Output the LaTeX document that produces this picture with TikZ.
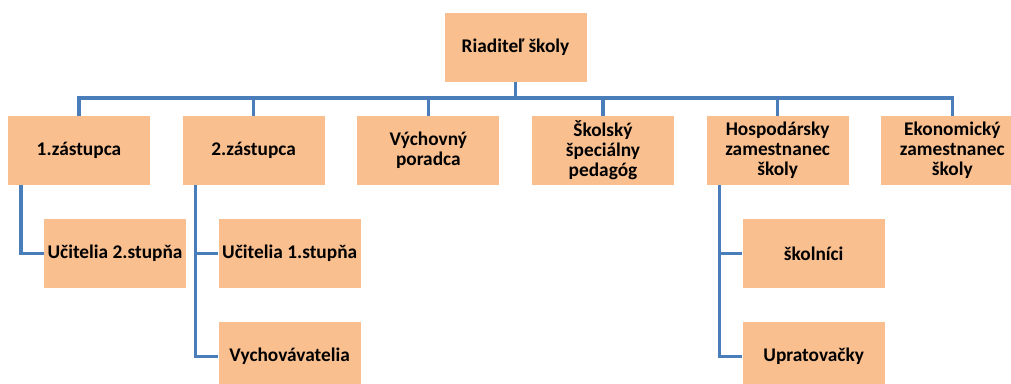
\documentclass[tikz,border=0pt]{standalone}
\usepackage{fontspec}
\setmainfont{Carlito}
\definecolor{boxfill}{HTML}{F9BF8F}
\definecolor{linkblue}{HTML}{4A7EBB}
\begin{document}
\begin{tikzpicture}[x=0.75pt,y=-0.75pt,node distance=131pt,
     org node/.style={fill=boxfill,minimum width=106.5pt,minimum height=51.75pt,
       inner sep=2pt,align=center,font=\fontsize{14.5}{15}\selectfont\bfseries},
     link/.style={draw=linkblue,line width=2.4pt}]

      \useasboundingbox (0,0) rectangle (1011,383);

      \node[org node] (head) at (515.5,47.5) {Riaditeľ školy};
      \node[org node] (z1) at (79,150.5) {1.zástupca};
      \node[org node] (z2) [right of=z1] {2.zástupca};
      \node[org node] (vp) [right of=z2] {Výchovný\\poradca};
      \node[org node] (ssp) [right of=vp] {Školský\\špeciálny\\pedagóg};
      \node[org node] (hosp) [right of=ssp] {Hospodársky\\zamestnanec\\školy};
      \node[org node] (ek) [right of=hosp] {Ekonomický\\zamestnanec\\školy};

      \node[org node] (uc2) [below of=z1,node distance=77.25pt,xshift=27pt] {Učitelia 2.stupňa};
      \node[org node] (uc1) [below of=z2,node distance=77.25pt,xshift=27pt] {Učitelia 1.stupňa};
      \node[org node] (vych) [below of=uc1,node distance=77.25pt] {Vychovávatelia};
      \node[org node] (skol) [below of=hosp,node distance=77.25pt,xshift=27pt] {školníci};
      \node[org node] (uprat) [below of=skol,node distance=77.25pt] {Upratovačky};

      \coordinate (bus) at (515.5,98);
      \path[link] (head.south) -- (bus);
      \foreach \n in {z1,z2,vp,ssp,hosp,ek} {
       \path[link] (\n.north) |- (bus);}

      \foreach \s/\t in {z1/uc2, z2/uc1, z2/vych, hosp/skol, hosp/uprat} {
       \path[link] ([xshift=10pt]\s.south west) |- (\t.west);}
    \end{tikzpicture}
\end{document}
